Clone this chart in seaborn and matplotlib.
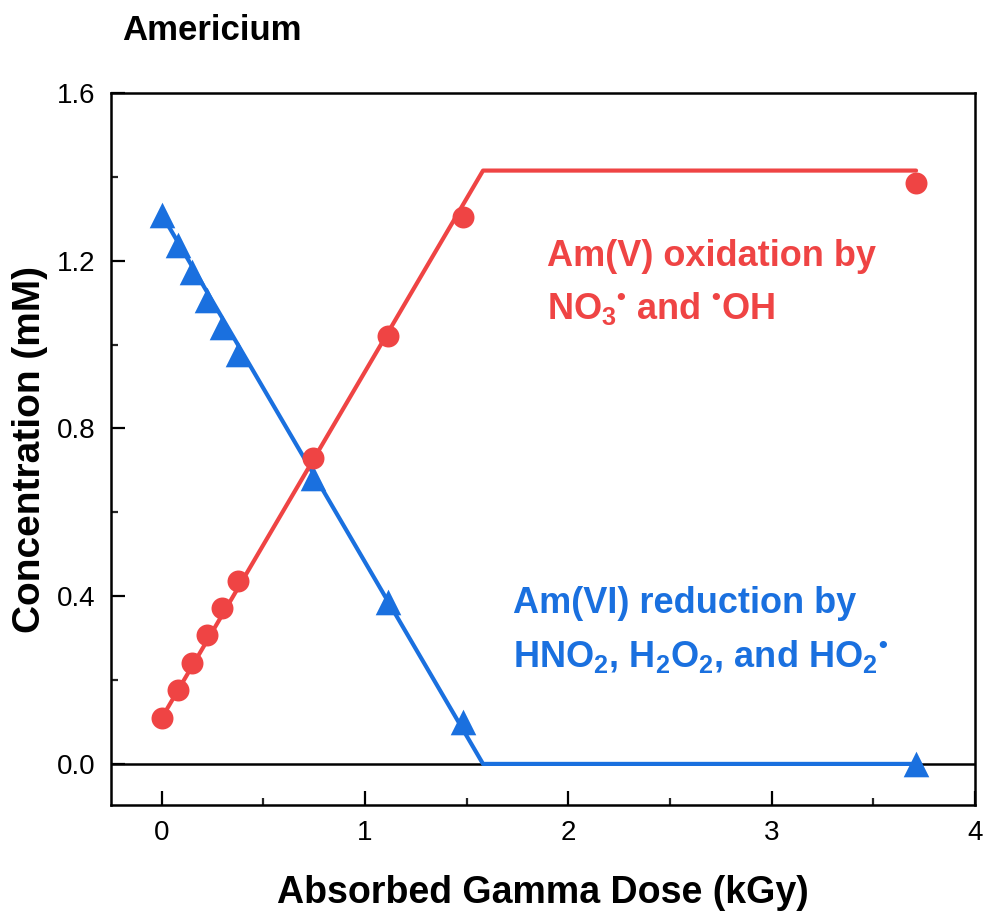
import numpy as np
import pandas as pd
import matplotlib
matplotlib.use("Agg")
import matplotlib.pyplot as plt
from matplotlib.ticker import MultipleLocator
import seaborn as sns

# ---- data ----
dose_am5 = [0.0, 0.079, 0.148, 0.221, 0.295, 0.374, 0.743, 1.112, 1.481, 3.71]
conc_am5 = [0.11, 0.176, 0.241, 0.308, 0.372, 0.436, 0.73, 1.02, 1.304, 1.385]
dose_am6 = [0.0, 0.079, 0.148, 0.221, 0.295, 0.374, 0.743, 1.112, 1.481, 3.71]
conc_am6 = [1.31, 1.237, 1.173, 1.106, 1.042, 0.978, 0.682, 0.386, 0.10, 0.0]
fit_x_am5 = [0.0, 1.58, 3.71]
fit_y_am5 = [0.11, 1.415, 1.415]
fit_x_am6 = [0.0, 1.58, 3.71]
fit_y_am6 = [1.31, 0.0, 0.0]
x_ticks = [0, 1, 2, 3, 4]
y_ticks = [0.0, 0.4, 0.8, 1.2, 1.6]
y_tick_labels = ["0.0", "0.4", "0.8", "1.2", "1.6"]

RED = "#EF4444"
BLUE = "#1A70DF"

sns.set_style("white")
plt.rcParams["font.family"] = ["Liberation Sans", "DejaVu Sans"]
plt.rcParams["text.color"] = "black"
plt.rcParams["axes.labelcolor"] = "black"
plt.rcParams["mathtext.fontset"] = "custom"
plt.rcParams["mathtext.rm"] = "Liberation Sans:bold"
plt.rcParams["mathtext.it"] = "Liberation Sans:bold"
plt.rcParams["mathtext.bf"] = "Liberation Sans:bold"
plt.rcParams["mathtext.default"] = "rm"

fig = plt.figure(figsize=(9.86, 9.23), dpi=100)
ax = fig.add_axes([111/986, 1-805/923, 864/986, 712/923])

ax.axhline(0, color="black", lw=1.8, zorder=1)

df6 = pd.DataFrame({"x": dose_am6, "y": conc_am6})
df5 = pd.DataFrame({"x": dose_am5, "y": conc_am5})
f6 = pd.DataFrame({"x": fit_x_am6, "y": fit_y_am6})
f5 = pd.DataFrame({"x": fit_x_am5, "y": fit_y_am5})

sns.lineplot(data=f6, x="x", y="y", color=BLUE, lw=3.0, ax=ax, sort=False,
             solid_joinstyle="round", zorder=2)
sns.scatterplot(data=df6, x="x", y="y", color=BLUE, marker="^", s=340,
                linewidth=0, ax=ax, zorder=3)
sns.lineplot(data=f5, x="x", y="y", color=RED, lw=3.0, ax=ax, sort=False,
             solid_joinstyle="round", zorder=4)
sns.scatterplot(data=df5, x="x", y="y", color=RED, marker="o", s=250,
                linewidth=0, ax=ax, zorder=5)

ax.set_xlim(-0.25, 4.0)
ax.set_ylim(-0.098, 1.6)
ax.set_xticks(x_ticks)
ax.set_xticklabels([str(t) for t in x_ticks])
ax.set_yticks(y_ticks)
ax.set_yticklabels(y_tick_labels)
ax.xaxis.set_minor_locator(MultipleLocator(0.5))
ax.yaxis.set_minor_locator(MultipleLocator(0.2))
ax.tick_params(which="major", direction="in", length=10, width=1.6,
               labelsize=20, pad=11, color="black", labelcolor="black",
               top=False, right=False, bottom=True, left=True)
ax.tick_params(which="minor", direction="in", length=5, width=1.6,
               top=False, right=False, bottom=True, left=True)
for s in ax.spines.values():
    s.set_linewidth(1.8)
    s.set_color("black")

ax.set_xlabel("Absorbed Gamma Dose (kGy)", fontsize=27, fontweight="bold")
ax.set_ylabel("Concentration (mM)", fontsize=28, fontweight="bold")
ax.xaxis.set_label_coords(0.5, -0.098)
ax.yaxis.set_label_coords(-0.073, 0.5)

fig.text(122/986, 1-40/923, "Americium", fontsize=25, fontweight="bold",
         ha="left", va="baseline", color="black")

ax.text(1.894, 1.187, "Am(V) oxidation by", color=RED, fontsize=26,
        fontweight="bold", ha="left", va="baseline")
ax.text(1.894, 1.062, r"NO$_3$$^{•}$ and $^{•}$OH", color=RED, fontsize=26,
        fontweight="bold", ha="left", va="baseline")
ax.text(1.727, 0.36, "Am(VI) reduction by", color=BLUE, fontsize=26,
        fontweight="bold", ha="left", va="baseline")
ax.text(1.727, 0.231, r"HNO$_2$, H$_2$O$_2$, and HO$_2$$^{•}$", color=BLUE,
        fontsize=26, fontweight="bold", ha="left", va="baseline")

fig.savefig("out.png", dpi=100)
